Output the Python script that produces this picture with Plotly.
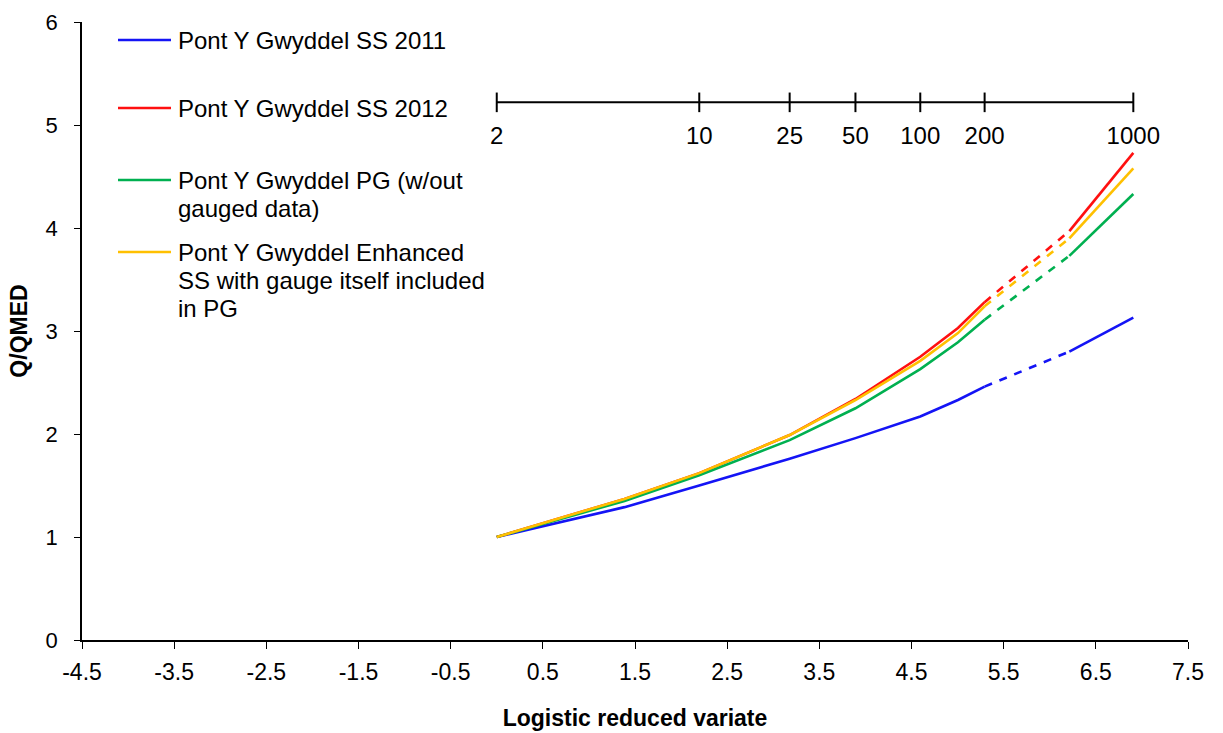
import numpy as np
import plotly.graph_objects as go

# Return periods (years) at which the growth curves are evaluated
return_periods = [2, 5, 10, 25, 50, 100, 150, 200, 500, 1000]

# Growth factors Q/QMED for each curve
ss_2011 = [1.00, 1.29, 1.50, 1.76, 1.96, 2.17, 2.33, 2.46, 2.80, 3.13]
ss_2012 = [1.00, 1.37, 1.62, 1.99, 2.34, 2.75, 3.03, 3.28, 3.97, 4.73]
pg_no_gauge = [1.00, 1.35, 1.60, 1.94, 2.25, 2.63, 2.89, 3.11, 3.73, 4.33]
enhanced_ss = [1.00, 1.37, 1.62, 1.99, 2.33, 2.71, 2.98, 3.24, 3.90, 4.58]

# Return-period scale drawn inside the plot
rp_ticks = [2, 10, 25, 50, 100, 200, 1000]
rp_scale_y = 5.22
rp_label_y = 4.87

# Bottom axis ticks
x_tick_vals = [-4.5, -3.5, -2.5, -1.5, -0.5, 0.5, 1.5, 2.5, 3.5, 4.5, 5.5, 6.5, 7.5]
x_tick_text = ["-4.5", "-3.5", "-2.5", "-1.5", "-0.5", "0.5", "1.5", "2.5",
               "3.5", "4.5", "5.5", "6.5", "7.5"]

series = [
    ("Pont Y Gwyddel SS 2011", ss_2011, "#1414F5"),
    ("Pont Y Gwyddel SS 2012", ss_2012, "#FF1010"),
    ("Pont Y Gwyddel PG (w/out gauged data)", pg_no_gauge, "#00B050"),
    ("Pont Y Gwyddel Enhanced SS with gauge itself included in PG", enhanced_ss, "#FFC000"),
]

legend_lines = [
    (["Pont Y Gwyddel SS 2011"], 40),
    (["Pont Y Gwyddel SS 2012"], 108),
    (["Pont Y Gwyddel PG (w/out", "gauged data)"], 180),
    (["Pont Y Gwyddel Enhanced", "SS with gauge itself included", "in PG"], 252),
]

FONT = "Arial, Liberation Sans, sans-serif"


def logistic_variate(T):
    T = np.asarray(T, dtype=float)
    return np.log(T - 1.0)


x_all = logistic_variate(return_periods)
i200 = return_periods.index(200)
i500 = return_periods.index(500)

fig = go.Figure()

for name, vals, color in series:
    vals = np.asarray(vals)
    # fitted range: solid; extrapolated 200-500 yr: dashed; 500-1000 yr: solid
    fig.add_trace(go.Scatter(x=x_all[: i200 + 1], y=vals[: i200 + 1], mode="lines",
                             line=dict(color=color, width=2.6), name=name,
                             showlegend=False))
    fig.add_trace(go.Scatter(x=x_all[i200:i500 + 1], y=vals[i200:i500 + 1], mode="lines",
                             line=dict(color=color, width=2.6, dash="8px,8px"),
                             showlegend=False, hoverinfo="skip"))
    fig.add_trace(go.Scatter(x=x_all[i500:], y=vals[i500:], mode="lines",
                             line=dict(color=color, width=2.6),
                             showlegend=False, hoverinfo="skip"))

# Return-period scale line with tick marks
rp_x = logistic_variate(rp_ticks)
fig.add_trace(go.Scatter(x=rp_x, y=[rp_scale_y] * len(rp_ticks), mode="lines+markers",
                         line=dict(color="black", width=2),
                         marker=dict(symbol="line-ns-open", size=14,
                                     line=dict(color="black", width=2)),
                         showlegend=False, hoverinfo="skip"))
fig.add_trace(go.Scatter(x=rp_x, y=[rp_label_y] * len(rp_ticks), mode="text",
                         text=[str(t) for t in rp_ticks], textposition="middle center",
                         textfont=dict(family=FONT, size=24, color="black"),
                         showlegend=False, hoverinfo="skip"))

# Custom legend (pixel layout converted to axis units)
x0_px, x1_px = 82, 1188
y0_px, y1_px = 640, 22


def px_to_x(px):
    return -4.5 + (px - x0_px) * 12.0 / (x1_px - x0_px)


def px_to_y(py):
    return (y0_px - py) * 6.0 / (y0_px - y1_px)


for (lines, ytop), (_, _, color) in zip(legend_lines, series):
    fig.add_shape(type="line", xref="x", yref="y",
                  x0=px_to_x(118), x1=px_to_x(171), y0=px_to_y(ytop), y1=px_to_y(ytop),
                  line=dict(color=color, width=2.4))
    for k, txt in enumerate(lines):
        fig.add_annotation(x=px_to_x(176), y=px_to_y(ytop + 28 * k), xref="x", yref="y",
                           text=txt, showarrow=False, xanchor="left", yanchor="middle",
                           font=dict(family=FONT, size=24, color="black"))

fig.update_layout(
    width=1223, height=733,
    margin=dict(l=82, r=35, t=22, b=93),
    paper_bgcolor="white", plot_bgcolor="white",
    font=dict(family=FONT, size=22, color="black"),
    xaxis=dict(range=[-4.5, 7.5], tickmode="array", tickvals=x_tick_vals,
               ticktext=x_tick_text, showgrid=False, zeroline=False,
               showline=True, linecolor="black", linewidth=1.5, ticks="outside",
               ticklen=7, tickcolor="black", tickfont=dict(size=23),
               ticklabelstandoff=4, automargin=False,
               title=dict(text="<b>Logistic reduced variate</b>", standoff=26,
                          font=dict(size=23))),
    yaxis=dict(range=[0, 6], dtick=1, showgrid=False, zeroline=False,
               showline=True, linecolor="black", linewidth=1.5, ticks="outside",
               ticklen=6, tickcolor="black", tickfont=dict(size=22),
               ticklabelstandoff=12, automargin=False,
               title=dict(text="<b>Q/QMED</b>", standoff=12, font=dict(size=23))),
)

fig.write_html("out.html")
